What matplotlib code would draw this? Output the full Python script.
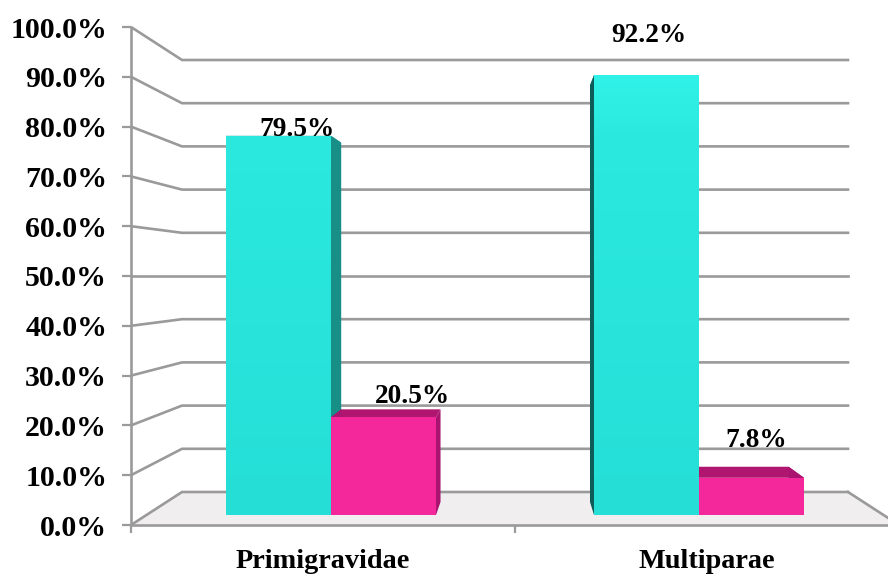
import numpy as np
import matplotlib
matplotlib.use("Agg")
import matplotlib.pyplot as plt
from matplotlib.colors import LinearSegmentedColormap
from matplotlib.patches import Polygon

categories = ['Primigravidae', 'Multiparae']
cyan_values = [79.5, 92.2]
pink_values = [20.5, 7.8]
cyan_labels = ['79.5%', '92.2%']
pink_labels = ['20.5%', '7.8%']
tick_values = list(range(0, 101, 10))
tick_labels = ['%d.0%%' % t for t in tick_values]

# label offsets from the top of the bar's centre, in pixels
cyan_offsets = [(19, 6), (2, 40)]
pink_offsets = [(29, 21), (5, 37)]

W, H = 888, 574
GREY = '#9a9a9a'
px = 0.72  # points per pixel at dpi 100

plt.rcParams['font.family'] = ['Liberation Serif', 'DejaVu Serif']
plt.rcParams['font.weight'] = 'bold'

fig = plt.figure(figsize=(W / 100, H / 100), dpi=100)

# wall axes: front edge of the chart box
ax = fig.add_axes([131 / W, 1 - 525 / H, 768 / W, 498 / H])
ax.set_xlim(0, 2)
ax.set_ylim(0, 100)
for s in ['top', 'right']:
    ax.spines[s].set_visible(False)
for s in ['left', 'bottom']:
    ax.spines[s].set_color(GREY)
    ax.spines[s].set_linewidth(1.9)
ax.set_yticks(tick_values)
ax.set_yticklabels(tick_labels)
ax.tick_params(axis='y', length=9 * px, width=1.6, color=GREY, pad=15 * px,
               labelsize=21.5, labelcolor='black')
ax.set_xticks([0, 1, 2])
ax.set_xticklabels([])
ax.set_xticks([0.5, 1.5], minor=True)
ax.set_xticklabels(categories, minor=True)
ax.tick_params(axis='x', which='major', length=8 * px, width=1.6, color=GREY)
ax.tick_params(axis='x', which='minor', length=0, pad=23.5 * px, labelsize=20.3)

# back wall sits inside the front edge
wall_x0, wall_x1 = 51 / 384, 717 / 384
def wall_y(t):
    return 33 / 4.98 + t * 432 / 498

ax.add_patch(Polygon([(0, 0), (wall_x0, wall_y(0)), (wall_x1, wall_y(0)), (2, 0)],
                     closed=True, facecolor='#f1eeef', edgecolor='none', zorder=1))
ax.plot([wall_x1, 2], [wall_y(0), 0], color=GREY, lw=1.9, zorder=2)
for t in tick_values:
    ax.plot([0, wall_x0, wall_x1], [t, wall_y(t), wall_y(t)], color=GREY, lw=1.9, zorder=2)

# bar axes: front plane of the bars, a little smaller than the walls
bx = fig.add_axes([131 / W, 1 - 515 / H, 768 / W, 477 / H])
bx.set_xlim(0, 2)
bx.set_ylim(0, 100)
bx.axis('off')
bx.patch.set_alpha(0)

bar_w = 105 / 384
def back_x(x):
    return x + (1.013 - x) * 0.054
def back_y(v):
    return v + (13 - 0.25 * v) / 4.77

def draw_faces(x0, x1, v, top_col, right_col, left_col):
    bx.add_patch(Polygon([(x0, v), (x1, v), (back_x(x1), back_y(v)), (back_x(x0), back_y(v))],
                         closed=True, facecolor=top_col, edgecolor='none', zorder=2))
    bx.add_patch(Polygon([(x1, v), (back_x(x1), back_y(v)), (back_x(x1), back_y(0)), (x1, 0)],
                         closed=True, facecolor=right_col, edgecolor='none', zorder=2))
    bx.add_patch(Polygon([(x0, v), (back_x(x0), back_y(v)), (back_x(x0), back_y(0)), (x0, 0)],
                         closed=True, facecolor=left_col, edgecolor='none', zorder=2))

cyan_x = np.array([95 / 384, 463 / 384])
pink_x = cyan_x + bar_w

for i in range(2):
    draw_faces(cyan_x[i], cyan_x[i] + bar_w, cyan_values[i], '#1aa79f', '#178f87', '#0d5c58')
for i in range(2):
    draw_faces(pink_x[i], pink_x[i] + bar_w, pink_values[i], '#b0166f', '#a8146f', '#a8146f')

cmap = LinearSegmentedColormap.from_list(
    'cy', [(0, '#25dfd7'), (0.8, '#2be9df'), (0.92, '#31f2e8'), (1, '#31f2e8')])
grad = np.linspace(0, 1, 256).reshape(-1, 1)

cyan_bars = bx.bar(cyan_x, cyan_values, width=bar_w, align='edge', color='#26e2da', zorder=3)
pink_bars = bx.bar(pink_x, pink_values, width=bar_w, align='edge', color='#f4289b', zorder=3)
for b in cyan_bars:
    im = bx.imshow(grad, origin='lower', cmap=cmap, extent=(b.get_x(), b.get_x() + bar_w, 0, 100),
                   aspect='auto', zorder=3.5, vmin=0, vmax=1)
    im.set_clip_path(b)
bx.set_xlim(0, 2)
bx.set_ylim(0, 100)

for bars, labels, offsets in [(cyan_bars, cyan_labels, cyan_offsets),
                              (pink_bars, pink_labels, pink_offsets)]:
    for b, lab, off in zip(bars, labels, offsets):
        bx.annotate(lab, (b.get_x() + bar_w / 2, b.get_height()),
                    xytext=(off[0] * px, off[1] * px), textcoords='offset points',
                    ha='center', va='center', fontsize=19.7, color='black', zorder=5,
                    annotation_clip=False)

fig.savefig('out.png', dpi=100)
